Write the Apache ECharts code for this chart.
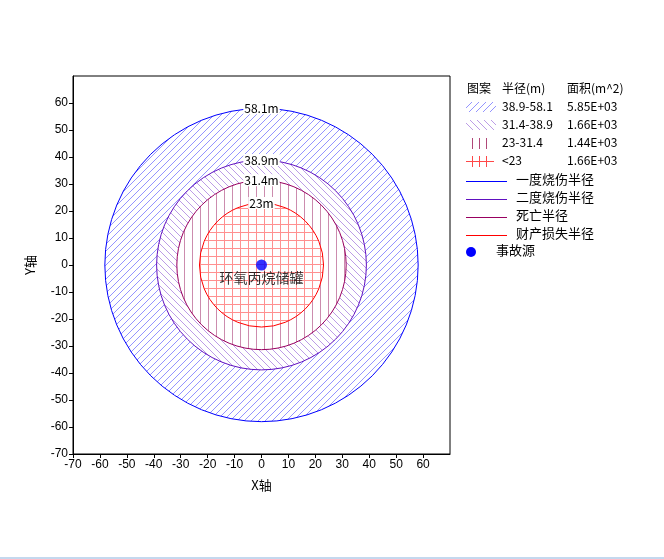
<!DOCTYPE html>
<html>
<head>
  <meta charset="utf-8">
  <title>事故影响范围</title>
  <style>
    html, body { margin: 0; padding: 0; background: #fff; }
    #main { width: 664px; height: 559px; }
  </style>
</head>
<body>
  <div id="main"></div>
  <script src="https://cdn.jsdelivr.net/npm/echarts@6/dist/echarts.min.js"></script>
  <script>
    // 半径数据（由外到内）
    const radii = [58.1, 38.9, 31.4, 23];
    const radiusLabels = ['58.1m', '38.9m', '31.4m', '23m'];
    const bandRanges = ['38.9-58.1', '31.4-38.9', '23-31.4', '<23'];
    const bandAreas = ['5.85E+03', '1.66E+03', '1.44E+03', '1.66E+03'];
    const lineNames = ['一度烧伤半径', '二度烧伤半径', '死亡半径', '财产损失半径'];
    const sourcePoint = [0, 0];
    const sourceName = '事故源';
    const sourceLabel = '环氧丙烷储罐';

    const circleColors = ['#0000ff', '#6010c0', '#980060', '#ff0000'];
    const hatchColors = ['#9494ff', '#bc9ce6', '#cc8cae', '#ff9090'];
    const FONT = '"Noto Sans CJK SC", sans-serif';

    // 填充图案
    function makeTile(size, color, draw) {
      const c = document.createElement('canvas');
      c.width = c.height = size;
      const ctx = c.getContext('2d');
      ctx.fillStyle = color;
      draw(ctx, size);
      return { image: c, repeat: 'repeat' };
    }
    const patterns = [
      makeTile(7, hatchColors[0], (ctx, s) => { for (let i = 0; i < s; i++) ctx.fillRect(i, s - 1 - i, 1, 1); }),
      makeTile(7, hatchColors[1], (ctx, s) => { for (let i = 0; i < s; i++) ctx.fillRect(i, i, 1, 1); }),
      makeTile(8, hatchColors[2], (ctx, s) => { ctx.fillRect(0, 0, 1, s); }),
      makeTile(8, hatchColors[3], (ctx, s) => { ctx.fillRect(0, 0, 1, s); ctx.fillRect(0, 0, s, 1); })
    ];

    const ringData = radii.map((r, i) => [sourcePoint[0], sourcePoint[1], r, i + 1 < radii.length ? radii[i + 1] : 0]);

    // 图例
    const lx = 466;
    const legendItems = [];
    legendItems.push({ type: 'text', left: lx + 1, top: 82, style: { text: '图案', font: '12px ' + FONT, fill: '#000' } });
    legendItems.push({ type: 'text', left: 502, top: 82, style: { text: '半径(m)', font: '12px ' + FONT, fill: '#000' } });
    legendItems.push({ type: 'text', left: 567, top: 82, style: { text: '面积(m^2)', font: '12px ' + FONT, fill: '#000' } });
    const rowY = [107, 125, 143, 161];
    bandRanges.forEach((t, i) => {
      const y = rowY[i];
      if (i < 2) {
        legendItems.push({ type: 'rect', shape: { x: lx, y: y - 5, width: 30, height: 10 }, style: { fill: patterns[i], stroke: null } });
      } else {
        const col = i === 2 ? '#b04878' : '#ff4848';
        [6, 13, 20].forEach(dx => legendItems.push({ type: 'rect', shape: { x: lx + dx, y: y - 5, width: 1, height: 11 }, style: { fill: col, stroke: null } }));
        if (i === 3) legendItems.push({ type: 'rect', shape: { x: lx, y: y, width: 28, height: 1 }, style: { fill: col, stroke: null } });
      }
      legendItems.push({ type: 'text', left: 502, top: y - 7, style: { text: t, font: '12px ' + FONT, fill: '#000' } });
      legendItems.push({ type: 'text', left: 567, top: y - 7, style: { text: bandAreas[i], font: '12px ' + FONT, fill: '#000' } });
    });
    const lineY = [181, 199, 217, 235];
    lineNames.forEach((t, i) => {
      const y = lineY[i];
      legendItems.push({ type: 'rect', shape: { x: lx, y: y, width: 41, height: 1 }, style: { fill: circleColors[i], stroke: null } });
      legendItems.push({ type: 'text', left: 516, top: y - 8, style: { text: t, font: '13px ' + FONT, fill: '#000' } });
    });
    legendItems.push({ type: 'circle', shape: { cx: 471, cy: 252, r: 5 }, style: { fill: '#0000ff' } });
    legendItems.push({ type: 'text', left: 496, top: 244, style: { text: sourceName, font: '13px ' + FONT, fill: '#000' } });
    legendItems.push({ type: 'rect', shape: { x: 0, y: 557, width: 664, height: 2 }, style: { fill: '#c4d8ee' } });

    const axisCommon = {
      type: 'value',
      min: -70,
      max: 70,
      interval: 10,
      nameLocation: 'middle',
      nameTextStyle: { color: '#000', fontSize: 13, fontFamily: FONT },
      axisLine: { show: true, onZero: false, lineStyle: { color: '#000' } },
      axisTick: { show: true, length: 4, lineStyle: { color: '#000' } },
      axisLabel: { color: '#000', fontSize: 12, fontFamily: 'Liberation Sans', showMaxLabel: false, margin: 5 },
      splitLine: { show: false }
    };

    const option = {
      animation: false,
      backgroundColor: '#fff',
      grid: { left: 73, top: 76, width: 377, height: 378, show: true, borderColor: '#000', borderWidth: 1, backgroundColor: '#fff' },
      xAxis: Object.assign({}, axisCommon, { name: 'X轴', nameGap: 25 }),
      yAxis: Object.assign({}, axisCommon, { name: 'Y轴', nameGap: 36 }),
      graphic: legendItems,
      series: [
        {
          type: 'custom',
          coordinateSystem: 'cartesian2d',
          data: ringData,
          clip: true,
          renderItem(params, api) {
            const i = params.dataIndex;
            const c = api.coord([api.value(0), api.value(1)]);
            const so = api.size([api.value(2), api.value(2)]);
            const si = api.size([api.value(3), api.value(3)]);
            const r = (so[0] + so[1]) / 2;
            const r0 = (si[0] + si[1]) / 2;
            return {
              type: 'group',
              children: [
                { type: 'ring', shape: { cx: c[0], cy: c[1], r: r, r0: r0 }, style: { fill: patterns[i] } },
                { type: 'circle', shape: { cx: c[0], cy: c[1], r: r }, style: { fill: 'none', stroke: circleColors[i], lineWidth: 1 } },
                {
                  type: 'text',
                  style: {
                    text: radiusLabels[i], x: c[0], y: c[1] - r, align: 'center', verticalAlign: 'middle',
                    font: '12px ' + FONT, fill: '#000', backgroundColor: '#fff', padding: [0, 1]
                  }
                }
              ]
            };
          }
        },
        {
          type: 'scatter',
          data: [sourcePoint],
          symbolSize: 11,
          itemStyle: { color: '#0000ff' },
          label: {
            show: true, position: 'bottom', distance: 0, formatter: sourceLabel,
            color: '#000', fontSize: 14, fontFamily: FONT
          },
          z: 5
        }
      ]
    };

    const chart = echarts.init(document.getElementById('main'));
    chart.setOption(option);
  </script>
</body>
</html>
